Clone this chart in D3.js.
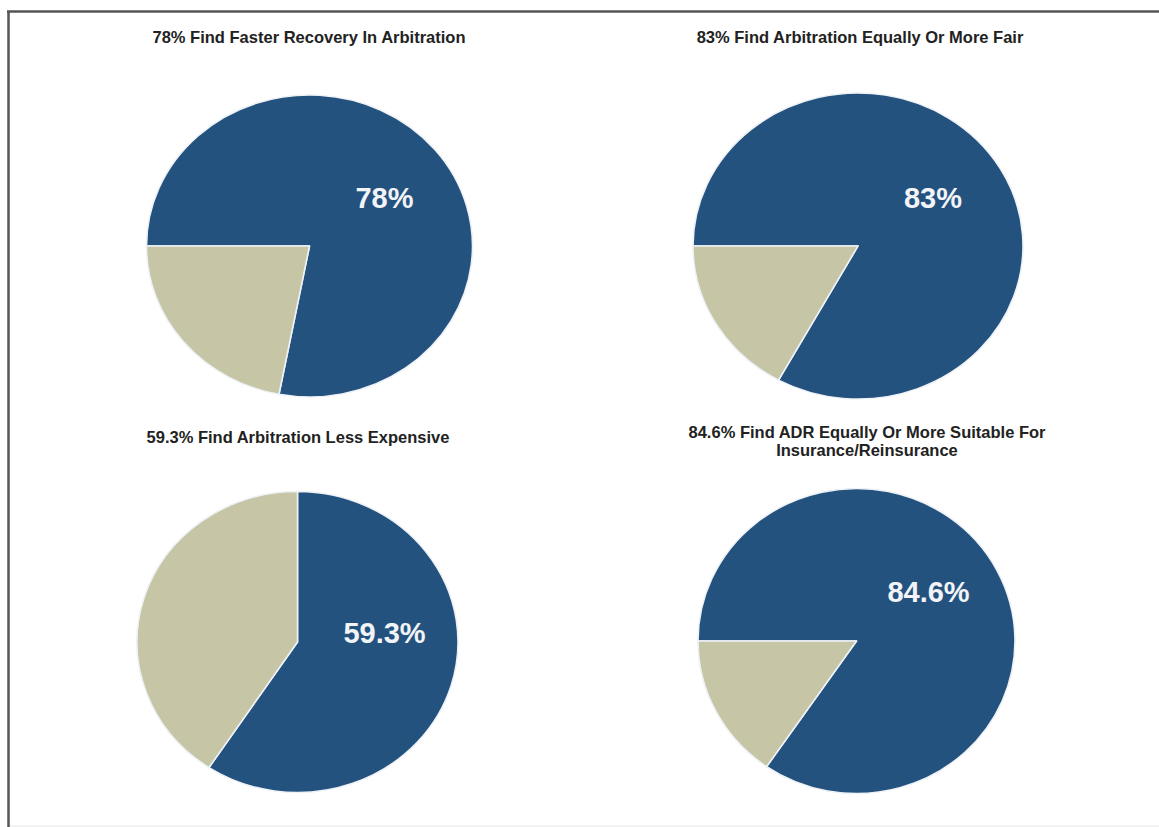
<!DOCTYPE html>
<html>
<head>
<meta charset="utf-8">
<script src="https://cdn.jsdelivr.net/npm/d3@7"></script>
<style>
  html, body { margin: 0; padding: 0; background: #ffffff; }
  svg { display: block; }
</style>
</head>
<body>
<svg id="chart" width="1159" height="827"></svg>
<script>
// ---- data ----
const titles = [
  ["78% Find Faster Recovery In Arbitration"],
  ["83% Find Arbitration Equally Or More Fair"],
  ["59.3% Find Arbitration Less Expensive"],
  ["84.6% Find ADR Equally Or More Suitable For", "Insurance/Reinsurance"]
];
const agreeValues = [78, 83, 59.3, 84.6];
const otherValues = [22, 17, 40.7, 15.4];
const valueLabels = ["78%", "83%", "59.3%", "84.6%"];
const startAngles = [-90, -90, 0, -90]; // degrees, clockwise from 12 o'clock

// ---- layout ----
const layout = [
  { cx: 309.5, cy: 246, rx: 163, ry: 151, tx: 309, ty: 43, lx: 75, ly: -38 },
  { cx: 858,   cy: 246, rx: 165, ry: 153, tx: 860, ty: 43, lx: 75, ly: -38 },
  { cx: 297.5, cy: 642, rx: 160.5, ry: 150.5, tx: 298, ty: 443, lx: 87, ly: 1 },
  { cx: 856.5, cy: 641, rx: 158.5, ry: 152.5, tx: 867, ty: 438, lx: 72, ly: -39 }
];
const colors = d3.scaleOrdinal().domain(["agree", "other"]).range(["#24527f", "#c6c5a6"]);

const svg = d3.select("#chart");

// frame (cropped border: left and top)
svg.append("line").attr("x1", 8.5).attr("y1", 11).attr("x2", 8.5).attr("y2", 827)
  .attr("stroke", "#555").attr("stroke-width", 2.5);
svg.append("line").attr("x1", 7).attr("y1", 11.5).attr("x2", 1159).attr("y2", 11.5)
  .attr("stroke", "#555").attr("stroke-width", 2.5);
svg.append("line").attr("x1", 10).attr("y1", 826).attr("x2", 1159).attr("y2", 826)
  .attr("stroke", "#eeeeee").attr("stroke-width", 1.5);

agreeValues.forEach((v, i) => {
  const L = layout[i];
  const data = [
    { key: "agree", value: v },
    { key: "other", value: otherValues[i] }
  ];
  const a0 = startAngles[i] * Math.PI / 180;
  const pie = d3.pie().sort(null).value(d => d.value)
    .startAngle(a0).endAngle(a0 + 2 * Math.PI);
  const arc = d3.arc().innerRadius(0).outerRadius(L.rx);

  const g = svg.append("g")
    .attr("transform", `translate(${L.cx},${L.cy})`);
  const gp = g.append("g").attr("transform", `scale(1,${L.ry / L.rx})`);
  gp.selectAll("path")
    .data(pie(data))
    .join("path")
    .attr("d", arc)
    .attr("fill", d => colors(d.data.key))
    .attr("stroke", "#eef2f6")
    .attr("stroke-width", 1.6)
    .attr("stroke-linejoin", "round");

  g.append("text")
    .attr("x", L.lx).attr("y", L.ly)
    .attr("text-anchor", "middle")
    .attr("font-family", "Liberation Sans, Arial, sans-serif")
    .attr("font-weight", "bold")
    .attr("font-size", 29)
    .attr("fill", "#f2f4f7")
    .text(valueLabels[i]);

  const t = svg.append("text")
    .attr("x", L.tx).attr("y", L.ty)
    .attr("text-anchor", "middle")
    .attr("font-family", "Liberation Sans, Arial, sans-serif")
    .attr("font-weight", "bold")
    .attr("font-size", 16.5)
    .attr("fill", "#222222");
  titles[i].forEach((line, j) => {
    t.append("tspan").attr("x", L.tx).attr("dy", j === 0 ? 0 : 18).text(line);
  });
});
</script>
</body>
</html>
